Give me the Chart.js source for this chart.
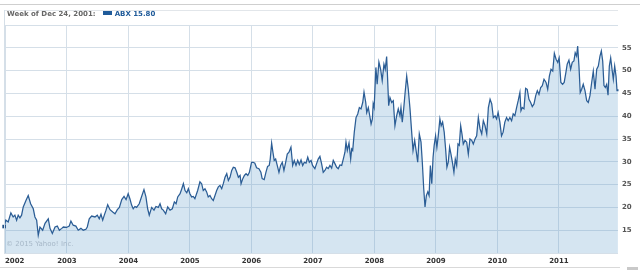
<!DOCTYPE html>
<html><head><meta charset="utf-8">
<script src="https://cdn.jsdelivr.net/npm/chart.js@4.4.0/dist/chart.umd.min.js"></script>
<style>
html,body{margin:0;padding:0;background:#fff;width:640px;height:270px;overflow:hidden;}
#wrap{position:relative;width:640px;height:270px;}
#c{position:absolute;left:0;top:0;}
.abs{position:absolute;}
#topline{left:0;top:4px;width:640px;height:1px;background:#cfcfcf;}
#frameTop{left:4px;top:10px;width:614px;height:1px;background:#e2e6ea;}
#frameLeft{left:4px;top:10px;width:1px;height:243px;background:#d5dfe8;}
#hdr{left:7px;top:10px;height:14px;line-height:14px;font:bold 7px "DejaVu Sans";color:#666;white-space:nowrap;}
#hdr .mk{display:inline-block;width:9px;height:4px;background:#1f5a99;vertical-align:middle;margin:0 3px 0 7px;position:relative;top:-1px;}
#hdr .ser{color:#1f5a99;}
#copy{left:6px;top:240px;height:12px;line-height:12px;font:7px "DejaVu Sans";color:#a7b8c8;white-space:nowrap;}
#botline{left:0;top:267px;width:620px;height:1px;background:#d9d9d9;}
#botblk{left:627px;top:267px;width:11px;height:3px;background:#c9c9c9;}
</style>
</head><body>
<div id="wrap">
<canvas id="c" width="640" height="270"></canvas>
<div id="topline" class="abs"></div>
<div id="frameTop" class="abs"></div>
<div id="frameLeft" class="abs"></div>
<div id="hdr" class="abs">Week of Dec 24, 2001:<span class="mk"></span><span class="ser">ABX 15.80</span></div>
<div id="copy" class="abs">© 2015 Yahoo! Inc.</div>
<div id="botline" class="abs"></div>
<div id="botblk" class="abs"></div>
</div>
<script>
// Weekly closing prices of ABX, [decimal year, price]
const w2002 = [[2001.978,15.8],[2002.006,17.2],[2002.044,16.8],[2002.088,18.8],[2002.125,17.9],[2002.153,18.3],[2002.181,17.2],[2002.207,18.3],[2002.235,17.7],[2002.262,18.3],[2002.289,20.1],[2002.333,21.5],[2002.370,22.6],[2002.409,20.8],[2002.452,19.7],[2002.479,17.9],[2002.507,17.2],[2002.533,13.9],[2002.561,15.7],[2002.605,15.0],[2002.643,16.5],[2002.696,17.5],[2002.724,15.4],[2002.762,14.3],[2002.806,15.7],[2002.843,15.9],[2002.876,15.0],[2002.915,15.4],[2002.941,15.7]];
const w2003 = [[2002.993,15.6],[2003.036,15.9],[2003.064,17.0],[2003.101,16.1],[2003.145,15.9],[2003.183,15.0],[2003.227,15.4],[2003.264,15.0],[2003.308,15.2],[2003.330,15.7],[2003.362,17.5],[2003.401,18.1],[2003.455,17.9],[2003.493,18.3],[2003.525,17.5],[2003.553,18.5],[2003.581,17.2],[2003.607,18.3],[2003.635,19.4],[2003.662,20.6],[2003.700,19.5],[2003.744,19.0],[2003.781,18.6],[2003.819,19.5],[2003.852,20.0],[2003.891,21.7],[2003.928,22.4],[2003.961,21.7]];
const w2004 = [[2003.995,23.0],[2004.023,21.9],[2004.051,20.5],[2004.077,19.7],[2004.105,20.2],[2004.132,20.0],[2004.175,20.8],[2004.214,22.4],[2004.252,23.9],[2004.284,22.3],[2004.312,19.7],[2004.338,18.3],[2004.377,20.0],[2004.415,19.4],[2004.447,20.2],[2004.485,20.0],[2004.513,20.8],[2004.540,19.7],[2004.566,19.4],[2004.605,18.6],[2004.638,20.1],[2004.676,19.4],[2004.713,19.7],[2004.746,21.2],[2004.774,20.8],[2004.801,22.3],[2004.839,23.0],[2004.867,24.1],[2004.893,25.2],[2004.920,23.7],[2004.948,23.2],[2004.974,24.1]];
const w2005 = [[2004.999,23.0],[2005.027,22.3],[2005.053,22.4],[2005.080,21.9],[2005.125,23.7],[2005.162,25.6],[2005.190,25.2],[2005.216,23.7],[2005.244,24.1],[2005.271,23.4],[2005.297,22.3],[2005.325,22.6],[2005.353,21.9],[2005.379,21.5],[2005.407,22.6],[2005.434,23.7],[2005.461,24.5],[2005.488,24.8],[2005.516,24.1],[2005.542,25.2],[2005.570,26.6],[2005.598,27.4],[2005.624,25.9],[2005.651,26.6],[2005.679,28.1],[2005.705,28.8],[2005.733,28.7],[2005.761,27.7],[2005.787,26.6],[2005.815,27.0],[2005.831,25.2],[2005.859,26.3],[2005.885,27.0],[2005.912,27.4],[2005.940,27.0],[2005.966,27.7]];
const w2006 = [[2006.001,29.9],[2006.028,29.9],[2006.055,29.7],[2006.083,28.7],[2006.121,28.5],[2006.153,27.7],[2006.174,26.3],[2006.207,26.1],[2006.235,27.7],[2006.262,29.0],[2006.289,29.2],[2006.305,30.6],[2006.328,34.1],[2006.349,32.1],[2006.370,30.3],[2006.393,30.6],[2006.419,29.2],[2006.447,27.7],[2006.474,29.2],[2006.501,29.9],[2006.528,28.1],[2006.556,29.9],[2006.582,31.7],[2006.610,32.1],[2006.642,33.2],[2006.670,29.2],[2006.696,30.3],[2006.724,29.2],[2006.752,30.3],[2006.778,29.4],[2006.806,30.4],[2006.833,29.2],[2006.859,29.9],[2006.887,29.7],[2006.915,31.0],[2006.941,29.9],[2006.969,30.3]];
const w2007 = [[2006.993,29.2],[2007.031,28.5],[2007.059,29.6],[2007.085,30.6],[2007.113,31.2],[2007.140,29.6],[2007.167,27.7],[2007.194,28.1],[2007.222,28.8],[2007.248,28.5],[2007.276,29.2],[2007.304,28.6],[2007.330,30.3],[2007.357,29.6],[2007.385,28.8],[2007.411,28.5],[2007.439,29.3],[2007.467,29.2],[2007.493,30.6],[2007.520,32.1],[2007.537,34.3],[2007.558,32.5],[2007.586,34.1],[2007.613,30.6],[2007.630,32.8],[2007.646,32.5],[2007.672,36.5],[2007.700,39.7],[2007.728,40.5],[2007.754,41.9],[2007.781,41.6],[2007.809,43.0],[2007.830,45.3],[2007.858,43.0],[2007.874,40.8],[2007.900,41.9],[2007.923,40.1],[2007.945,38.3],[2007.966,39.4]];
const w2008 = [[2007.979,42.7],[2007.995,41.9],[2008.023,50.7],[2008.044,47.0],[2008.072,51.9],[2008.100,50.3],[2008.126,47.8],[2008.154,51.4],[2008.175,50.3],[2008.198,53.1],[2008.214,48.1],[2008.231,42.3],[2008.252,44.1],[2008.280,43.0],[2008.306,43.4],[2008.333,37.9],[2008.361,40.1],[2008.387,41.6],[2008.415,40.1],[2008.431,41.9],[2008.452,38.7],[2008.475,41.6],[2008.496,44.8],[2008.524,48.8],[2008.550,45.9],[2008.578,41.6],[2008.605,36.5],[2008.627,32.5],[2008.654,34.7],[2008.681,32.1],[2008.703,29.9],[2008.729,36.1],[2008.757,34.3],[2008.778,29.9],[2008.801,24.1],[2008.822,20.1],[2008.844,22.6],[2008.867,23.4],[2008.888,22.6],[2008.909,29.2],[2008.932,25.2],[2008.953,31.0]];
const w2009 = [[2008.971,33.6],[2008.994,35.7],[2009.015,33.2],[2009.037,35.7],[2009.064,39.4],[2009.085,37.9],[2009.108,38.7],[2009.134,36.5],[2009.157,32.8],[2009.178,28.8],[2009.200,29.9],[2009.222,33.2],[2009.244,31.7],[2009.271,29.6],[2009.292,27.7],[2009.314,30.6],[2009.337,29.2],[2009.358,33.9],[2009.379,33.6],[2009.402,37.9],[2009.423,36.1],[2009.444,33.9],[2009.472,34.7],[2009.500,34.3],[2009.526,31.7],[2009.553,35.0],[2009.581,34.7],[2009.607,33.9],[2009.635,35.0],[2009.662,35.7],[2009.689,39.7],[2009.717,37.2],[2009.744,36.1],[2009.770,39.0],[2009.798,37.9],[2009.826,36.1],[2009.852,41.9],[2009.880,43.7],[2009.907,42.7],[2009.933,39.7],[2009.961,40.1]];
const w2010 = [[2009.985,39.4],[2010.011,40.8],[2010.039,38.7],[2010.066,35.7],[2010.092,36.5],[2010.120,38.7],[2010.148,39.7],[2010.174,39.0],[2010.202,39.7],[2010.230,39.0],[2010.256,40.5],[2010.283,40.1],[2010.311,41.9],[2010.337,43.4],[2010.365,45.2],[2010.382,41.2],[2010.403,41.9],[2010.431,41.6],[2010.458,46.1],[2010.484,45.9],[2010.512,43.7],[2010.540,43.0],[2010.566,42.1],[2010.594,42.7],[2010.622,44.5],[2010.648,45.6],[2010.675,44.8],[2010.703,46.3],[2010.729,46.7],[2010.757,48.1],[2010.790,47.4],[2010.817,45.9],[2010.844,48.8],[2010.871,50.3],[2010.899,49.9],[2010.925,53.8],[2010.953,52.5],[2010.980,51.8]];
const w2011 = [[2011.003,52.8],[2011.031,47.4],[2011.059,47.0],[2011.085,47.4],[2011.113,49.6],[2011.134,51.4],[2011.162,52.3],[2011.190,50.3],[2011.216,51.8],[2011.243,52.1],[2011.264,53.9],[2011.287,53.2],[2011.304,55.4],[2011.325,51.0],[2011.346,45.2],[2011.369,45.9],[2011.395,47.0],[2011.423,45.6],[2011.451,43.4],[2011.477,43.0],[2011.504,44.5],[2011.532,47.4],[2011.558,49.9],[2011.586,45.9],[2011.614,50.3],[2011.640,51.0],[2011.667,53.2],[2011.689,54.3],[2011.711,52.1],[2011.732,46.7],[2011.754,46.3],[2011.776,47.0],[2011.798,44.6],[2011.819,51.0],[2011.841,52.8],[2011.863,50.3],[2011.884,48.1],[2011.906,51.0],[2011.928,48.8],[2011.944,45.6],[2011.958,45.9]];

const yearTicks = [2002,2003,2004,2005,2006,2007,2008,2009,2010,2011];
const yearLabels = ['2002','2003','2004','2005','2006','2007','2008','2009','2010','2011'];
const priceTicks = [15,20,25,30,35,40,45,50,55];
const xMin = 2001.976, xMax = 2011.96;
const yMin = 10, yMax = 60;

const series = [].concat(w2002,w2003,w2004,w2005,w2006,w2007,w2008,w2009,w2010,w2011)
  .map(p => ({x:p[0], y:p[1]}));

const gridColor = '#d5dfe8';
const labelFont = {family:'DejaVu Sans', size:7, weight:'bold'};

const xLabels = {
  id:'xLabels',
  afterDraw(chart){
    const {ctx, chartArea, scales:{x}} = chart;
    ctx.save();
    ctx.font = 'bold 7px "DejaVu Sans"';
    ctx.fillStyle = '#333';
    ctx.textBaseline = 'middle';
    ctx.textAlign = 'left';
    yearTicks.forEach((v,i) => {
      const px = x.getPixelForValue(v);
      const w = ctx.measureText(yearLabels[i]).width;
      let left = px - w/2;
      if (left < chartArea.left + 1) left = chartArea.left + 1;
      ctx.fillText(yearLabels[i], left, chartArea.bottom + 8.5);
    });
    ctx.restore();
  }
};

new Chart(document.getElementById('c'), {
  type:'line',
  data:{datasets:[{
    data: series,
    borderColor:'#2b5d95',
    borderWidth:1.25,
    backgroundColor:'rgba(100,160,205,0.27)',
    fill:'start',
    tension:0,
    pointRadius: c => c.dataIndex === 0 ? 2.5 : 0,
    pointStyle:'rect',
    pointBackgroundColor:'#1f4f86',
    pointBorderColor:'#1f4f86',
    pointBorderWidth:0,
    clip:false
  }]},
  options:{
    responsive:false,
    animation:false,
    devicePixelRatio:1,
    events:[],
    layout:{padding:{left:4, top:25, right:0, bottom:17}},
    plugins:{legend:{display:false}, tooltip:{enabled:false}},
    scales:{
      x:{
        type:'linear', min:xMin, max:xMax,
        afterBuildTicks: s => { s.ticks = yearTicks.map(v => ({value:v})); },
        ticks:{display:false},
        grid:{color:gridColor, drawTicks:false, lineWidth:1},
        border:{display:false},
        afterFit: s => { s.height = 0; }
      },
      y:{
        position:'right', min:yMin, max:yMax,
        ticks:{stepSize:5, padding:4, color:'#555', font:labelFont,
          callback: v => priceTicks.includes(v) ? String(v) : ''},
        grid:{color:gridColor, drawTicks:false, lineWidth:1},
        border:{display:false},
        afterFit: s => { s.width = 22; }
      }
    }
  },
  plugins:[xLabels]
});
</script>
</body></html>
